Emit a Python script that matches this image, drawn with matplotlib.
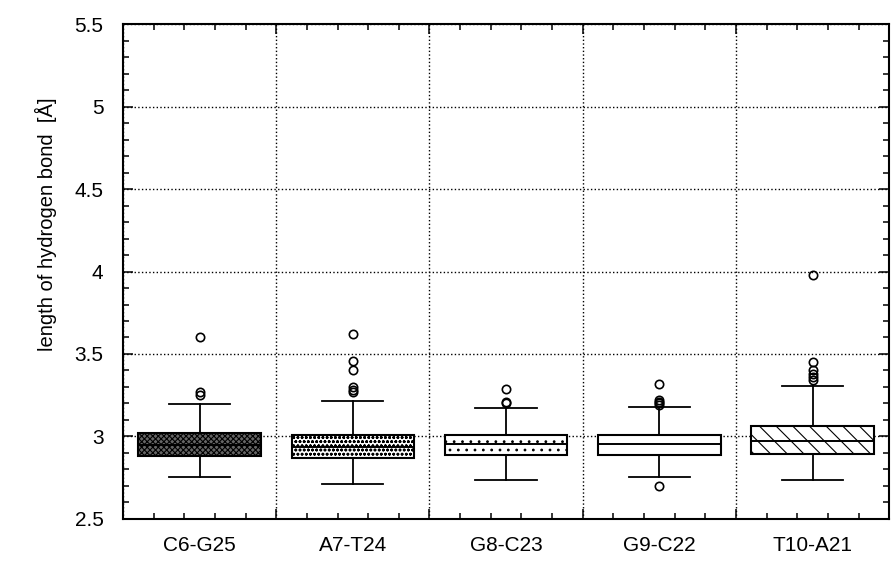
import matplotlib
matplotlib.use("Agg")
import matplotlib.pyplot as plt
from matplotlib.ticker import MultipleLocator, FormatStrFormatter

plt.rcParams['font.family'] = ['Liberation Sans', 'DejaVu Sans']
plt.rcParams['hatch.linewidth'] = 0.8

# data
pairs = ['C6-G25', 'A7-T24', 'G8-C23', 'G9-C22', 'T10-A21']
q1 = [2.884, 2.868, 2.890, 2.890, 2.896]
med = [2.950, 2.938, 2.953, 2.955, 2.973]
q3 = [3.021, 3.009, 3.009, 3.009, 3.064]
wlo = [2.755, 2.710, 2.736, 2.756, 2.736]
whi = [3.199, 3.217, 3.170, 3.177, 3.308]
fliers = [
    [3.60, 3.27, 3.25],
    [3.62, 3.46, 3.40, 3.30, 3.28, 3.27],
    [3.29, 3.21, 3.20],
    [3.32, 3.22, 3.21, 3.20, 3.19, 2.70],
    [3.98, 3.45, 3.40, 3.38, 3.36, 3.34],
]
hatches = ['xxxxxx', 'oooo', '..', '', '\\\\']
faces = ['#666666', 'white', 'white', 'white', 'white']

stats = []
for i in range(len(pairs)):
    stats.append(dict(label=pairs[i], q1=q1[i], med=med[i], q3=q3[i],
                      whislo=wlo[i], whishi=whi[i], fliers=fliers[i]))

fig = plt.figure(figsize=(8.91, 5.61), dpi=100)
ax = fig.add_axes([0.138, 0.075, 0.860, 0.882])

pos = [i + 0.5 for i in range(len(pairs))]
bp = ax.bxp(stats, positions=pos, widths=0.8, patch_artist=True,
            showfliers=True,
            boxprops=dict(linewidth=1.5, edgecolor='black'),
            medianprops=dict(color='black', linewidth=1.4),
            whiskerprops=dict(color='black', linewidth=1.3),
            capprops=dict(color='black', linewidth=1.3),
            flierprops=dict(marker='o', markerfacecolor='none',
                            markeredgecolor='black', markersize=6,
                            markeredgewidth=1.2))
for b, h, f in zip(bp['boxes'], hatches, faces):
    b.set_facecolor(f)
    b.set_hatch(h)
    b.set_zorder(3)
for m in bp['medians']:
    m.set_zorder(4)

ax.set_xlim(0, 5)
ax.set_ylim(2.5, 5.5)
ax.xaxis.set_major_locator(MultipleLocator(1))
ax.xaxis.set_minor_locator(MultipleLocator(0.2))
ax.yaxis.set_major_locator(MultipleLocator(0.5))
ax.yaxis.set_minor_locator(MultipleLocator(0.1))
ax.yaxis.set_major_formatter(FormatStrFormatter('%g'))
ax.set_xticklabels([])
ax.tick_params(which='both', direction='in', top=True, right=True, width=1.1)
ax.tick_params(which='major', length=7)
ax.tick_params(which='minor', length=4)
ax.tick_params(axis='y', labelsize=15, pad=14)
ax.grid(True, which='major', linestyle=':', color='black', linewidth=1.0)
ax.set_axisbelow(True)
for s in ax.spines.values():
    s.set_linewidth(1.5)

for p, name in zip(pos, pairs):
    ax.text(p, -0.035, name, transform=ax.get_xaxis_transform(),
            ha='center', va='top', fontsize=15)

ax.set_ylabel('length of hydrogen bond  [Å]', fontsize=14.5)
ax.yaxis.set_label_coords(-0.086, 0.596)

fig.savefig('out.png', dpi=100)
